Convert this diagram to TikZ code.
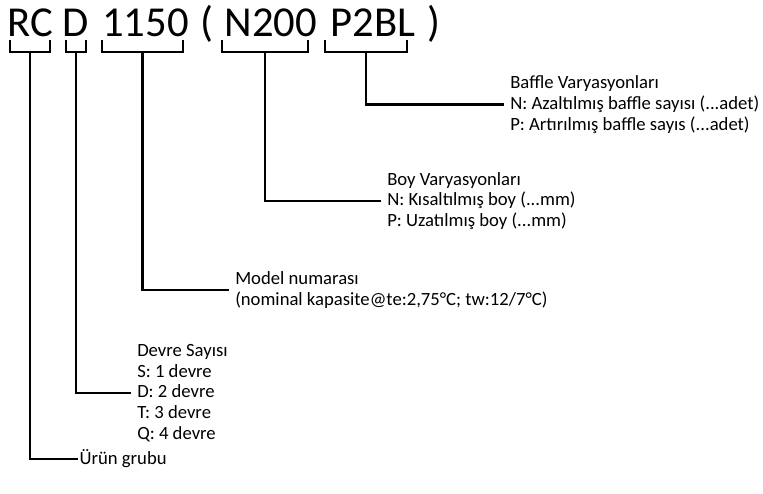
\documentclass[tikz,border=0pt]{standalone}
\usepackage{fontspec}
\setmainfont{Carlito}
\begin{document}
\begin{tikzpicture}[x=0.75pt,y=-0.75pt,
  ttl/.style={anchor=base, inner sep=0pt, font=\fontsize{32}{36}\selectfont},
  lbl/.style={anchor=west, align=left, inner xsep=4.5pt, inner ysep=0pt, font=\fontsize{14}{15.6}\selectfont},
  br/.style={line width=1.6pt, line cap=rect},
  conn/.style={line width=1.6pt}]
\useasboundingbox (0,0) rectangle (763,493);
% title pieces
\node[ttl] (rc)  at (30,36.5)  {RC};
\node[ttl] (d)   at (76,36.5)  {D};
\node[ttl] (num) at (145.5,36.5) {1150};
\node[ttl] (lp)  at (207,36.5) {(};
\node[ttl] (n)   at (271,36.5) {N200};
\node[ttl] (p)   at (373,36.5) {P2BL};
\node[ttl] (rp)  at (434,36.5) {)};
% brackets
\draw[br] (10,41) -- (10,52) -- (50,52) -- (50,41);
\draw[br] (66,41) -- (66,52) -- (86,52) -- (86,41);
\draw[br] (102,41) -- (102,52) -- (183,52) -- (183,41);
\draw[br] (222,41) -- (222,52) -- (308,52) -- (308,41);
\draw[br] (325,41) -- (325,52) -- (407,52) -- (407,41);
\coordinate (sRC) at (30,52);
\coordinate (sD) at (76,52);
\coordinate (sNum) at (142.5,52);
\coordinate (sN) at (265,52);
\coordinate (sP) at (366,52);
% labels
\node[lbl] (baffle) at (504,104.5) {Baffle Varyasyonları\\N: Azaltılmış baffle sayısı (...adet)\\P: Artırılmış baffle sayıs (...adet)};
\node[lbl] (boy) at (381,201) {Boy Varyasyonları\\N: Kısaltılmış boy (...mm)\\P: Uzatılmış boy (...mm)};
\node[lbl] (model) at (229,290) {Model numarası\\(nominal kapasite@te:2,75°C; tw:12/7°C)};
\node[lbl] (devre) at (131,393) {Devre Sayısı\\S: 1 devre\\D: 2 devre\\T: 3 devre\\Q: 4 devre};
\node[lbl, inner xsep=1pt] (urun) at (78,459) {Ürün grubu};
% connectors
\draw[conn] (sP) |- (baffle.west);
\draw[conn] (sN) |- (boy.west);
\draw[conn] (sNum) |- (model.west);
\draw[conn] (sD) |- (devre.west);
\draw[conn] (sRC) |- (urun.west);
\end{tikzpicture}
\end{document}
